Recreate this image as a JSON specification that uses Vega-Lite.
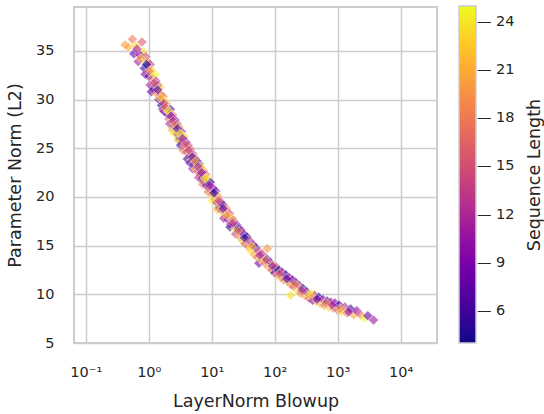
{
  "$schema": "https://vega.github.io/schema/vega-lite/v6.json",
  "width": 363,
  "height": 336,
  "autosize": "none",
  "padding": {"left": 74, "top": 7, "right": 107, "bottom": 71},
  "background": "white",
  "config": {"font": "DejaVu Sans", "view": {"stroke": "#cccccc", "strokeWidth": 2}},
  "title": {"text": "Sequence Length", "orient": "right", "angle": 270, "frame": "group", "anchor": "middle", "baseline": "middle", "offset": 2, "fontSize": 17.5, "fontWeight": "normal", "color": "#262626"},
  "data": {"values": [
    {"b":0.42,"p":35.6,"s":20},{"b":0.55,"p":36.2,"s":18},{"b":0.47,"p":35.4,"s":21},{"b":0.62,"p":35.5,"s":23},{"b":0.58,"p":34.7,"s":8},
    {"b":0.78,"p":35.9,"s":16},{"b":0.68,"p":33.9,"s":11},{"b":0.82,"p":34.9,"s":24},{"b":0.72,"p":34.6,"s":10},{"b":0.9,"p":34.4,"s":15},
    {"b":0.85,"p":33.2,"s":6},{"b":0.95,"p":33.9,"s":19},{"b":1.05,"p":33.6,"s":13},{"b":0.88,"p":32.6,"s":9},{"b":1.0,"p":32.4,"s":7},
    {"b":1.1,"p":33.0,"s":22},{"b":1.15,"p":32.2,"s":17},{"b":1.05,"p":31.5,"s":12},{"b":1.25,"p":32.6,"s":25},{"b":1.2,"p":31.1,"s":5},
    {"b":1.3,"p":31.9,"s":14},{"b":1.1,"p":30.8,"s":9},{"b":1.35,"p":30.6,"s":20},{"b":1.4,"p":31.5,"s":11},{"b":1.5,"p":31.2,"s":23},
    {"b":1.45,"p":30.0,"s":8},{"b":1.55,"p":30.5,"s":16},{"b":1.6,"p":29.4,"s":4},{"b":1.7,"p":30.3,"s":19},{"b":1.65,"p":29.0,"s":13},
    {"b":1.8,"p":29.8,"s":24},{"b":1.75,"p":28.8,"s":10},{"b":1.9,"p":29.6,"s":21},{"b":2.0,"p":28.5,"s":7},{"b":1.95,"p":29.0,"s":18},
    {"b":2.1,"p":28.0,"s":15},{"b":2.2,"p":29.0,"s":7},{"b":2.3,"p":27.9,"s":24},{"b":2.15,"p":27.5,"s":13},{"b":2.4,"p":28.4,"s":18},
    {"b":2.5,"p":27.3,"s":5},{"b":2.35,"p":26.9,"s":21},{"b":2.6,"p":27.9,"s":10},{"b":2.7,"p":26.8,"s":16},{"b":2.55,"p":26.5,"s":25},
    {"b":2.8,"p":27.5,"s":8},{"b":2.9,"p":26.4,"s":14},{"b":3.0,"p":27.2,"s":20},{"b":3.1,"p":26.0,"s":4},{"b":2.95,"p":25.8,"s":22},
    {"b":3.3,"p":26.7,"s":11},{"b":3.4,"p":25.6,"s":17},{"b":3.2,"p":25.3,"s":6},{"b":3.6,"p":26.2,"s":23},{"b":3.7,"p":25.1,"s":12},
    {"b":3.5,"p":24.8,"s":19},{"b":3.9,"p":25.6,"s":9},{"b":4.0,"p":24.6,"s":15},{"b":4.2,"p":25.3,"s":12},{"b":4.4,"p":24.2,"s":22},
    {"b":4.1,"p":23.9,"s":6},{"b":4.6,"p":24.9,"s":17},{"b":4.8,"p":23.8,"s":25},{"b":4.5,"p":23.5,"s":9},{"b":5.0,"p":24.4,"s":14},
    {"b":5.2,"p":23.3,"s":4},{"b":5.4,"p":24.0,"s":20},{"b":5.0,"p":22.9,"s":11},{"b":5.6,"p":22.9,"s":23},{"b":5.8,"p":23.7,"s":8},
    {"b":6.0,"p":22.6,"s":16},{"b":6.3,"p":23.4,"s":5},{"b":6.5,"p":22.4,"s":19},{"b":6.2,"p":22.0,"s":13},{"b":6.8,"p":23.1,"s":24},
    {"b":7.0,"p":21.9,"s":10},{"b":7.3,"p":22.7,"s":21},{"b":7.5,"p":21.6,"s":7},{"b":7.2,"p":21.3,"s":18},{"b":8.0,"p":22.3,"s":15},
    {"b":8.3,"p":21.2,"s":7},{"b":8.6,"p":21.9,"s":24},{"b":9.0,"p":20.9,"s":13},{"b":8.8,"p":20.5,"s":18},{"b":9.5,"p":21.5,"s":5},
    {"b":10,"p":20.3,"s":21},{"b":10.5,"p":20.9,"s":10},{"b":11,"p":19.8,"s":16},{"b":10.2,"p":19.6,"s":25},{"b":11.5,"p":20.6,"s":8},
    {"b":12,"p":19.4,"s":14},{"b":12.5,"p":20.1,"s":20},{"b":13,"p":18.9,"s":4},{"b":12.3,"p":18.7,"s":22},{"b":13.8,"p":19.5,"s":11},
    {"b":14.5,"p":18.6,"s":17},{"b":15,"p":19.2,"s":6},{"b":16,"p":18.1,"s":23},{"b":15.5,"p":17.8,"s":12},{"b":17,"p":18.8,"s":19},
    {"b":18,"p":17.7,"s":9},{"b":19,"p":18.3,"s":15},{"b":20,"p":17.2,"s":12},{"b":21,"p":17.8,"s":22},{"b":19.5,"p":16.9,"s":6},
    {"b":22,"p":17.6,"s":17},{"b":23.5,"p":16.7,"s":25},{"b":25,"p":17.1,"s":9},{"b":24,"p":16.2,"s":14},{"b":26.5,"p":16.7,"s":4},
    {"b":28,"p":15.9,"s":20},{"b":29,"p":16.6,"s":11},{"b":31,"p":15.5,"s":23},{"b":32,"p":16.2,"s":8},{"b":34,"p":15.2,"s":16},
    {"b":36,"p":15.9,"s":5},{"b":38,"p":14.9,"s":19},{"b":40,"p":15.5,"s":13},{"b":42,"p":14.5,"s":24},{"b":45,"p":15.1,"s":10},
    {"b":47,"p":14.1,"s":21},{"b":50,"p":14.8,"s":7},{"b":53,"p":13.8,"s":18},{"b":56,"p":14.4,"s":15},{"b":56,"p":13.2,"s":9},
    {"b":60,"p":13.6,"s":24},{"b":63,"p":14.1,"s":13},{"b":76,"p":14.7,"s":20},{"b":70,"p":13.2,"s":18},{"b":75,"p":13.6,"s":5},
    {"b":80,"p":12.8,"s":21},{"b":85,"p":13.3,"s":10},{"b":90,"p":12.5,"s":16},{"b":95,"p":13.0,"s":25},{"b":100,"p":12.2,"s":8},
    {"b":105,"p":12.8,"s":14},{"b":110,"p":12.0,"s":20},{"b":115,"p":12.5,"s":4},{"b":125,"p":11.7,"s":22},{"b":130,"p":12.3,"s":11},
    {"b":140,"p":11.5,"s":17},{"b":150,"p":12.0,"s":6},{"b":160,"p":11.3,"s":23},{"b":170,"p":11.7,"s":12},{"b":180,"p":11.0,"s":19},
    {"b":178,"p":9.9,"s":24},{"b":190,"p":11.5,"s":9},{"b":200,"p":10.8,"s":15},{"b":215,"p":11.2,"s":7},{"b":230,"p":10.4,"s":24},
    {"b":245,"p":10.9,"s":13},{"b":260,"p":10.1,"s":18},{"b":280,"p":10.6,"s":5},{"b":300,"p":9.9,"s":21},{"b":320,"p":10.3,"s":10},
    {"b":350,"p":9.6,"s":16},{"b":380,"p":10.1,"s":25},{"b":400,"p":9.4,"s":8},{"b":430,"p":9.9,"s":14},{"b":460,"p":9.3,"s":20},
    {"b":500,"p":9.7,"s":4},{"b":540,"p":9.0,"s":22},{"b":580,"p":9.5,"s":11},{"b":620,"p":8.9,"s":17},{"b":680,"p":9.3,"s":6},
    {"b":720,"p":8.7,"s":23},{"b":780,"p":9.2,"s":12},{"b":850,"p":8.6,"s":19},{"b":900,"p":9.1,"s":9},{"b":1000,"p":8.4,"s":15},
    {"b":1050,"p":8.9,"s":7},{"b":1150,"p":8.2,"s":24},{"b":1300,"p":8.7,"s":13},{"b":1400,"p":8.1,"s":18},{"b":1600,"p":8.5,"s":5},
    {"b":1800,"p":7.9,"s":21},{"b":2000,"p":8.3,"s":10},{"b":2300,"p":7.9,"s":16},{"b":2600,"p":7.6,"s":25},{"b":3000,"p":7.8,"s":8},
    {"b":3700,"p":7.35,"s":11},
    {"b":0.65,"p":35.2,"s":12},{"b":0.75,"p":34.2,"s":21},{"b":0.92,"p":33.6,"s":4},{"b":1.02,"p":32.9,"s":18},{"b":1.22,"p":31.7,"s":15},
    {"b":1.38,"p":31.0,"s":7},{"b":1.55,"p":30.1,"s":22},{"b":1.72,"p":29.6,"s":11},{"b":1.85,"p":29.2,"s":16},{"b":2.05,"p":28.8,"s":25},
    {"b":2.25,"p":28.3,"s":9},{"b":2.45,"p":27.8,"s":13},{"b":2.65,"p":27.4,"s":19},{"b":2.85,"p":27.0,"s":6},{"b":3.15,"p":26.5,"s":24},
    {"b":3.45,"p":26.0,"s":10},{"b":3.8,"p":25.4,"s":17},{"b":4.3,"p":24.8,"s":14},{"b":4.9,"p":24.1,"s":7},{"b":5.5,"p":23.6,"s":20},
    {"b":6.1,"p":23.1,"s":12},{"b":6.9,"p":22.5,"s":9},{"b":7.8,"p":21.9,"s":23},{"b":9.2,"p":21.2,"s":11},{"b":10.8,"p":20.4,"s":5},
    {"b":12.8,"p":19.6,"s":16},{"b":15.2,"p":18.8,"s":8},{"b":17.5,"p":18.1,"s":21},{"b":21.5,"p":17.3,"s":13},{"b":26,"p":16.5,"s":18},
    {"b":33,"p":15.8,"s":6},{"b":43,"p":14.9,"s":22},{"b":58,"p":14.0,"s":12},{"b":72,"p":13.5,"s":17},{"b":92,"p":12.9,"s":10},
    {"b":120,"p":12.1,"s":15},{"b":155,"p":11.6,"s":7},{"b":210,"p":11.0,"s":19},{"b":270,"p":10.4,"s":14},{"b":360,"p":9.9,"s":22},
    {"b":470,"p":9.5,"s":9},{"b":650,"p":9.1,"s":18},{"b":820,"p":8.9,"s":12},{"b":1100,"p":8.5,"s":20},{"b":1500,"p":8.2,"s":11}
  ]},
  "mark": {"type": "point", "shape": "diamond", "filled": true, "size": 100, "opacity": 1, "fillOpacity": 0.6, "stroke": "white", "strokeWidth": 0.6, "strokeOpacity": 0.7},
  "encoding": {
    "x": {
      "field": "b", "type": "quantitative",
      "scale": {"type": "log", "domain": [0.065, 37700], "nice": false},
      "axis": {
        "title": "LayerNorm Blowup", "titleFontSize": 17.5, "titleFontWeight": "normal", "titleColor": "#262626",
        "titleBaseline": "alphabetic", "titleY": 63,
        "values": [0.1, 1, 10, 100, 1000, 10000],
        "labelExpr": "datum.value < 0.5 ? '10⁻¹' : datum.value < 5 ? '10⁰' : datum.value < 50 ? '10¹' : datum.value < 500 ? '10²' : datum.value < 5000 ? '10³' : '10⁴'",
        "labelFontSize": 14.5, "labelColor": "#262626", "labelPadding": 22, "labelFlush": false,
        "ticks": false, "tickSize": 0, "domain": false,
        "grid": true, "gridColor": "#cccccc", "gridWidth": 1.5
      }
    },
    "y": {
      "field": "p", "type": "quantitative",
      "scale": {"domain": [5, 39.5], "nice": false, "zero": false},
      "axis": {
        "title": "Parameter Norm (L2)", "titleFontSize": 17.5, "titleFontWeight": "normal", "titleColor": "#262626",
        "titleX": -58.5, "titleY": 168, "titleAngle": -90, "titleAlign": "center", "titleBaseline": "middle",
        "values": [5, 10, 15, 20, 25, 30, 35],
        "labelFontSize": 14.5, "labelColor": "#262626", "labelPadding": 20, "labelFlush": false,
        "ticks": false, "tickSize": 0, "domain": false,
        "grid": true, "gridColor": "#cccccc", "gridWidth": 1.5
      }
    },
    "color": {
      "field": "s", "type": "quantitative",
      "scale": {"scheme": "plasma", "domain": [4, 25]},
      "legend": {
        "orient": "none", "legendX": 385, "legendY": -1, "direction": "vertical", "padding": 0,
        "gradientLength": 337, "gradientThickness": 17, "gradientStrokeColor": "#cccccc", "gradientStrokeWidth": 1.5,
        "values": [6, 9, 12, 15, 18, 21, 24],
        "labelExpr": "'— ' + datum.label",
        "labelFontSize": 14.5, "labelColor": "#262626", "labelOffset": 1, "labelOverlap": false,
        "title": null
      }
    }
  }
}
